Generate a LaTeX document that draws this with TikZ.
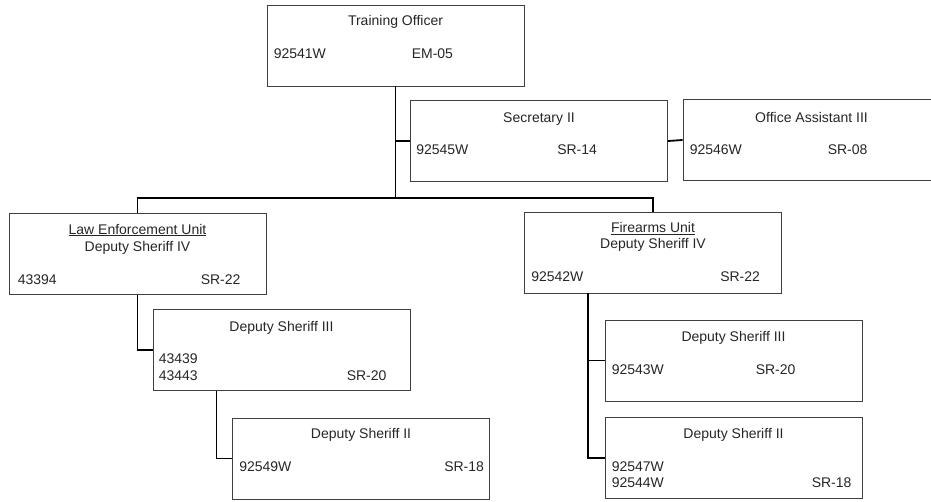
\documentclass[tikz,border=0pt]{standalone}
\usepackage{fontspec}
\setmainfont{Liberation Sans}
\usetikzlibrary{calc}

\tikzset{
  post/.style={draw=black!75,line width=0.9pt,minimum width=257pt,minimum height=81pt,inner sep=0pt},
  lbl/.style={font=\fontsize{14}{16}\selectfont,text=black!85,inner sep=0pt,anchor=base},
  lft/.style={lbl,anchor=base west},
  wire/.style={line width=1.8pt}
}

\begin{document}
\begin{tikzpicture}[x=1pt,y=-1pt]
  \useasboundingbox (0,0) rectangle (931,501);
  % boxes
  \node[post] (to) at (395.5,45.5) {};
  \node[post] (sec) at (539,141) {};
  \node[post] (oa) at (811.5,140) {};
  \node[post] (le) at (137.5,254) {};
  \node[post] (fa) at (653,252.5) {};
  \node[post] (ds3l) at (281.5,350) {};
  \node[post] (ds2l) at (361,458.5) {};
  \node[post] (ds3r) at (733.5,360.5) {};
  \node[post] (ds2r) at (733.5,458) {};
  % texts
  \node[lbl] (to-t) at ($(to.north)+(0,21)$) {Training Officer};
  \node[lft] (to-n) at ($(to.north west)+(7,54)$) {92541W};
  \node[lft] (to-g) at ($(to.north west)+(145,54)$) {EM-05};
  \node[lbl] (sec-t) at ($(sec.north)+(0,22)$) {Secretary II};
  \node[lft] (sec-n) at ($(sec.north west)+(6,54)$) {92545W};
  \node[lft] (sec-g) at ($(sec.north west)+(147,54)$) {SR-14};
  \node[lbl] (oa-t) at ($(oa.north)+(0,23)$) {Office Assistant III};
  \node[lft] (oa-n) at ($(oa.north west)+(7,55)$) {92546W};
  \node[lft] (oa-g) at ($(oa.north west)+(145,55)$) {SR-08};
  \node[lbl] (le-u) at ($(le.north)+(0,21)$) {\underline{Law Enforcement Unit}};
  \node[lbl] (le-t) at ($(le.north)+(0,38)$) {Deputy Sheriff IV};
  \node[lft] (le-n) at ($(le.north west)+(9,71)$) {43394};
  \node[lft] (le-g) at ($(le.north west)+(192,71)$) {SR-22};
  \node[lbl] (fa-u) at ($(fa.north)+(0,21)$) {\underline{Firearms Unit}};
  \node[lbl] (fa-t) at ($(fa.north)+(0,37)$) {Deputy Sheriff IV};
  \node[lft] (fa-n) at ($(fa.north west)+(7,70)$) {92542W};
  \node[lft] (fa-g) at ($(fa.north west)+(196,70)$) {SR-22};
  \node[lbl] (ds3l-t) at ($(ds3l.north)+(0,22)$) {Deputy Sheriff III};
  \node[lft] (ds3l-n) at ($(ds3l.north west)+(6,54)$) {43439};
  \node[lft] (ds3l-m) at ($(ds3l.north west)+(6,71)$) {43443};
  \node[lft] (ds3l-g) at ($(ds3l.north west)+(194,71)$) {SR-20};
  \node[lbl] (ds2l-t) at ($(ds2l.north)+(0,21)$) {Deputy Sheriff II};
  \node[lft] (ds2l-n) at ($(ds2l.north west)+(7,54)$) {92549W};
  \node[lft] (ds2l-g) at ($(ds2l.north west)+(212,54)$) {SR-18};
  \node[lbl] (ds3r-t) at ($(ds3r.north)+(0,22)$) {Deputy Sheriff III};
  \node[lft] (ds3r-n) at ($(ds3r.north west)+(7,55)$) {92543W};
  \node[lft] (ds3r-g) at ($(ds3r.north west)+(151,55)$) {SR-20};
  \node[lbl] (ds2r-t) at ($(ds2r.north)+(0,21)$) {Deputy Sheriff II};
  \node[lft] (ds2r-n) at ($(ds2r.north west)+(7,54)$) {92547W};
  \node[lft] (ds2r-m) at ($(ds2r.north west)+(7,70)$) {92544W};
  \node[lft] (ds2r-g) at ($(ds2r.north west)+(207,70)$) {SR-18};
  % connectors
  \coordinate (hub) at (395.5,198);
  \coordinate (le-d) at ($(ds3l.south west)+(64,0)$);
  \coordinate (fa-d) at ($(fa.south west)+(64,0)$);
  \draw[wire] (to.south) -- (hub);
  \draw[wire] (to.south) |- (sec.west);
  \draw[wire] (sec.east) -- (oa.west);
  \draw[wire] (le.north) |- (hub) -| (fa.north);
  \draw[wire] (le.south) |- (ds3l.west);
  \draw[wire] (le-d) |- (ds2l.west);
  \draw[wire] (fa-d) |- (ds3r.west);
  \draw[wire] (fa-d) |- (ds2r.west);
\end{tikzpicture}
\end{document}
